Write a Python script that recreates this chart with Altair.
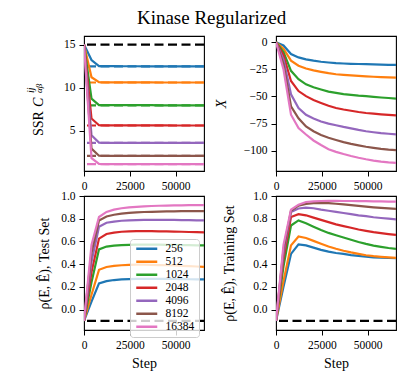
import altair as alt
import pandas as pd

FONT = "Liberation Serif"

steps = [0, 4096, 8192, 12288, 16384, 20480, 24576, 28672, 32768,
         36864, 40960, 45056, 49152, 53248, 57344, 61440, 65536]
sizes = ["256", "512", "1024", "2048", "4096", "8192", "16384"]
colors = ["#1f77b4", "#ff7f0e", "#2ca02c", "#d62728", "#9467bd", "#8c564b", "#e377c2"]

# SSR C panel
ssr_256 = [15.0, 13.2, 12.5, 12.49, 12.49, 12.48, 12.48, 12.48, 12.47, 12.47, 12.47, 12.47, 12.46, 12.46, 12.46, 12.46, 12.46]
ssr_512 = [15.0, 11.2, 10.62, 10.61, 10.61, 10.6, 10.6, 10.6, 10.6, 10.6, 10.59, 10.59, 10.59, 10.59, 10.59, 10.59, 10.59]
ssr_1024 = [15.0, 8.72, 7.97, 7.96, 7.96, 7.95, 7.95, 7.95, 7.95, 7.95, 7.94, 7.94, 7.94, 7.94, 7.94, 7.94, 7.94]
ssr_2048 = [15.0, 6.4, 5.62, 5.61, 5.6, 5.6, 5.6, 5.6, 5.6, 5.6, 5.6, 5.6, 5.59, 5.59, 5.59, 5.59, 5.59]
ssr_4096 = [15.0, 4.45, 3.6, 3.58, 3.58, 3.57, 3.57, 3.57, 3.57, 3.57, 3.57, 3.57, 3.57, 3.57, 3.57, 3.57, 3.57]
ssr_8192 = [15.0, 2.9, 2.08, 2.07, 2.07, 2.06, 2.06, 2.06, 2.06, 2.06, 2.06, 2.06, 2.06, 2.06, 2.06, 2.06, 2.06]
ssr_16384 = [15.0, 1.8, 1.12, 1.11, 1.1, 1.1, 1.1, 1.1, 1.1, 1.1, 1.1, 1.1, 1.1, 1.1, 1.1, 1.1, 1.1]
ssr_ref = [12.46, 10.59, 7.94, 5.59, 3.57, 2.06, 1.1]
ssr_start = [15.0]

# X panel
x_256 = [0, -3, -10.9, -14, -15.8, -17, -18, -18.7, -19.3, -19.6, -19.9, -20.1, -20.2, -20.4, -20.6, -20.8, -20.9]
x_512 = [0, -6, -17, -21.7, -24.2, -26, -27.3, -28.5, -29.5, -30.1, -30.6, -31, -31.4, -31.8, -32.1, -32.4, -32.6]
x_1024 = [0, -9, -26.4, -34, -38.8, -41.5, -43.5, -45.5, -46.6, -47.8, -48.5, -49.2, -49.7, -50.3, -50.9, -51.4, -51.9]
x_2048 = [0, -12, -35.7, -45, -49.7, -53.2, -55.9, -58.5, -60.6, -62, -63.1, -64.3, -65.2, -65.8, -66.4, -66.9, -67.4]
x_4096 = [0, -16, -48, -60.6, -66.8, -70.2, -73, -75, -76.5, -78, -79.3, -80.8, -82, -82.9, -83.7, -84.3, -84.8]
x_8192 = [0, -20, -59, -70, -77.6, -82, -85.4, -88, -90, -92, -93.6, -95, -96.3, -97.3, -98.2, -98.9, -99.4]
x_16384 = [0, -25, -66.8, -79, -85, -90.5, -94.7, -98.5, -101, -103, -104.8, -106.4, -107.8, -109, -110, -110.7, -111.2]

# rho, test set
test_256 = [-0.1, 0.07, 0.23, 0.25, 0.26, 0.265, 0.268, 0.27, 0.27, 0.27, 0.27, 0.27, 0.269, 0.268, 0.267, 0.266, 0.265]
test_512 = [-0.1, 0.13, 0.35, 0.375, 0.385, 0.39, 0.393, 0.395, 0.395, 0.394, 0.392, 0.39, 0.388, 0.385, 0.382, 0.379, 0.376]
test_1024 = [-0.1, 0.24, 0.53, 0.555, 0.563, 0.567, 0.57, 0.571, 0.572, 0.572, 0.571, 0.57, 0.569, 0.568, 0.567, 0.566, 0.565]
test_2048 = [-0.1, 0.33, 0.625, 0.665, 0.678, 0.685, 0.688, 0.69, 0.69, 0.69, 0.689, 0.688, 0.687, 0.685, 0.683, 0.682, 0.68]
test_4096 = [-0.1, 0.42, 0.73, 0.765, 0.775, 0.782, 0.786, 0.788, 0.789, 0.79, 0.79, 0.79, 0.789, 0.788, 0.787, 0.786, 0.785]
test_8192 = [-0.1, 0.5, 0.785, 0.82, 0.835, 0.845, 0.852, 0.856, 0.859, 0.861, 0.863, 0.864, 0.865, 0.866, 0.866, 0.867, 0.867]
test_16384 = [-0.1, 0.57, 0.815, 0.86, 0.88, 0.892, 0.9, 0.905, 0.909, 0.912, 0.914, 0.916, 0.917, 0.918, 0.919, 0.92, 0.92]

# rho, training set
train_256 = [-0.1, 0.2, 0.49, 0.574, 0.565, 0.545, 0.526, 0.51, 0.498, 0.49, 0.48, 0.472, 0.465, 0.46, 0.457, 0.454, 0.452]
train_512 = [-0.1, 0.25, 0.565, 0.644, 0.63, 0.605, 0.58, 0.555, 0.535, 0.518, 0.503, 0.49, 0.478, 0.47, 0.464, 0.459, 0.455]
train_1024 = [-0.1, 0.38, 0.74, 0.785, 0.76, 0.73, 0.7, 0.675, 0.655, 0.635, 0.615, 0.595, 0.578, 0.563, 0.552, 0.542, 0.535]
train_2048 = [-0.1, 0.45, 0.815, 0.84, 0.83, 0.81, 0.79, 0.77, 0.75, 0.735, 0.72, 0.705, 0.693, 0.682, 0.673, 0.665, 0.658]
train_4096 = [-0.1, 0.5, 0.86, 0.89, 0.897, 0.892, 0.88, 0.87, 0.86, 0.85, 0.84, 0.83, 0.822, 0.813, 0.806, 0.8, 0.795]
train_8192 = [-0.1, 0.53, 0.87, 0.915, 0.93, 0.937, 0.94, 0.937, 0.932, 0.926, 0.92, 0.913, 0.906, 0.9, 0.895, 0.891, 0.887]
train_16384 = [-0.1, 0.57, 0.88, 0.924, 0.947, 0.953, 0.956, 0.957, 0.957, 0.956, 0.956, 0.955, 0.954, 0.953, 0.952, 0.951, 0.95]

rho_base = [-0.1]

x_ticks = [0, 25000, 50000]
ssr_ticks = [5, 10, 15]
x_panel_ticks = [0, -25, -50, -75, -100]
rho_ticks = [0, 0.2, 0.4, 0.6, 0.8, 1.0]


def long(series):
    rows = []
    for size, vals in zip(sizes, series):
        for s, v in zip(steps, vals):
            rows.append({"step": s, "value": v, "size": size})
    return pd.DataFrame(rows)


def color_enc(legend=None):
    return alt.Color("size:N", scale=alt.Scale(domain=sizes, range=colors),
                     sort=sizes, legend=legend)


def x_enc(title):
    kw = dict(values=x_ticks, format="d", labelFlush=False, labelOverlap=False)
    if title:
        kw.update(title=title, titleY=37, titleBaseline="alphabetic")
    else:
        kw.update(title=None)
    return alt.X("step:Q", scale=alt.Scale(domain=[0, 65536], nice=False, zero=False),
                 axis=alt.Axis(**kw))


def y_enc(ydomain, yticks, yfmt, ytitle, title_x=None, italic=False):
    ax = dict(values=yticks, format=yfmt, labelOverlap=False)
    if ytitle:
        ax.update(title=ytitle, titleX=title_x, titleBaseline="alphabetic")
        if italic:
            ax.update(titleFontStyle="italic")
    else:
        ax.update(title=None)
    return alt.Y("value:Q", scale=alt.Scale(domain=ydomain, nice=False, zero=False),
                 axis=alt.Axis(**ax))


def lines(df, xtitle, yenc, legend=None):
    return alt.Chart(df).mark_line(strokeWidth=2.2, clip=True).encode(
        x=x_enc(xtitle), y=yenc, color=color_enc(legend))


DASH = [9, 4.5]


def hrule(vals, yenc):
    return alt.Chart(pd.DataFrame({"value": vals})).mark_rule(
        color="black", strokeWidth=2.3, strokeDash=DASH).encode(y=yenc)


def label(txt, x, y, size, style="normal"):
    return alt.Chart(pd.DataFrame({"t": [txt]})).mark_text(
        angle=270, align="left", baseline="alphabetic", font=FONT, fontSize=size,
        fontStyle=style, color="black").encode(text="t:N", x=alt.value(x), y=alt.value(y))


# ---- top-left
y_tl = y_enc([0.3, 16.0], ssr_ticks, "d", None)
tl_lines = lines(long([ssr_256, ssr_512, ssr_1024, ssr_2048, ssr_4096, ssr_8192, ssr_16384]),
                 None, y_tl)
tl_ref = alt.Chart(pd.DataFrame({"value": ssr_ref, "size": sizes})).mark_rule(
    strokeWidth=2.2, strokeDash=DASH).encode(y=y_tl, color=color_enc())

tl = alt.layer(
    tl_ref, tl_lines, hrule(ssr_start, y_tl),
    label("SSR", -41, 100, 14),
    label("C", -41, 71, 14, "italic"),
    label("ij", -50, 57, 10, "italic"),
    label("αβ", -42, 57, 9, "italic"),
).properties(width=120, height=135)

# ---- top-right
y_tr = y_enc([-118.6, 5.7], x_panel_ticks, "d", "X", title_x=-51, italic=True)
tr = lines(long([x_256, x_512, x_1024, x_2048, x_4096, x_8192, x_16384]),
           None, y_tr).properties(width=120, height=135)

# ---- bottom-left
legend = alt.Legend(title=None, orient="none", legendX=46, legendY=43,
                    symbolType="M-1,0H5", symbolSize=49, symbolStrokeWidth=2.5,
                    labelFont=FONT, labelFontSize=11.5, labelColor="black",
                    labelOffset=20, rowPadding=0, padding=4,
                    fillColor="rgba(255,255,255,0.8)", strokeColor="#cccccc",
                    cornerRadius=3)
y_bl = y_enc([-0.18, 1.0], rho_ticks, ".1f", "ρ(E, Ê),  Test Set", title_x=-36)
bl = alt.layer(
    lines(long([test_256, test_512, test_1024, test_2048, test_4096, test_8192, test_16384]),
          "Step", y_bl, legend=legend),
    hrule(rho_base, y_bl),
).properties(width=120, height=134)

# ---- bottom-right
y_br = y_enc([-0.18, 1.0], rho_ticks, ".1f", "ρ(E, Ê),  Training Set", title_x=-43)
br = alt.layer(
    lines(long([train_256, train_512, train_1024, train_2048, train_4096, train_8192, train_16384]),
          "Step", y_br),
    hrule(rho_base, y_br),
).properties(width=120, height=134)

chart = alt.concat(
    tl, tr, bl, br, columns=2, spacing={"row": 25, "column": 72}, bounds="flush"
).resolve_scale(color="independent").properties(
    title=alt.TitleParams("Kinase Regularized", font=FONT, fontSize=19,
                          fontWeight="normal", color="black", anchor="middle", offset=7),
    padding={"left": 17, "top": 1, "right": 5, "bottom": 5},
).configure_view(stroke="black", strokeWidth=1.1).configure_axis(
    labelFont=FONT, labelFontSize=11.5, labelColor="black", labelPadding=4,
    labelOverlap=False,
    tickColor="black", tickSize=5, tickWidth=1, domain=False, grid=False,
    titleFont=FONT, titleFontSize=14, titleFontWeight="normal", titleColor="black",
)

chart.save("out.html", embed_options={"renderer": "svg", "actions": False})
